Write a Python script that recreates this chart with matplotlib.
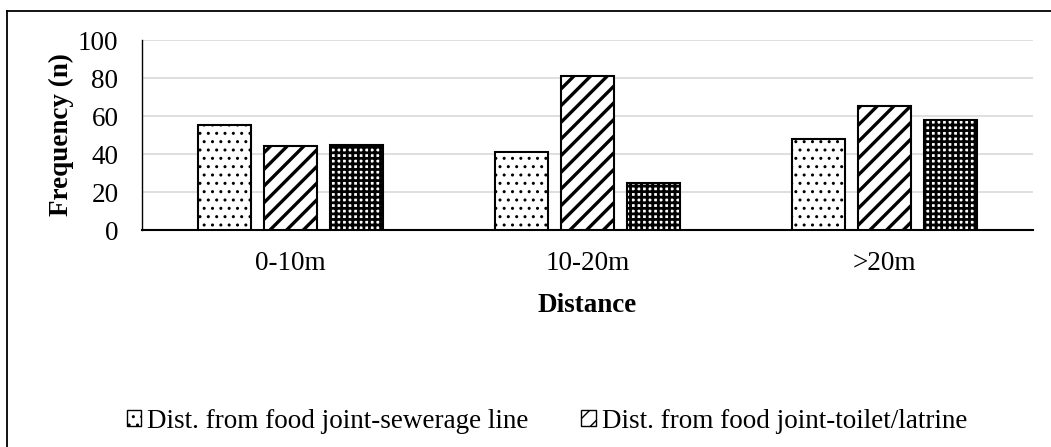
import matplotlib
matplotlib.use("Agg")
import matplotlib.pyplot as plt
import numpy as np
from matplotlib.lines import Line2D
from matplotlib.patches import Patch

categories = ["0-10m", "10-20m", ">20m"]
series_names = ["Dist. from food joint-sewerage line",
                "Dist. from food joint-toilet/latrine",
                "Dist. from food joint-drainage"]
sewerage = [55, 41, 48]
toilet = [44, 81, 65]
drainage = [45, 25, 58]
yticks = [0, 20, 40, 60, 80, 100]

plt.rcParams['font.family'] = ['Liberation Serif', 'DejaVu Serif']

W, H = 1051, 447
fig = plt.figure(figsize=(W / 100, H / 100), dpi=100)
ax = fig.add_axes([142 / W, 1 - 230 / H, (1033 - 142) / W, (230 - 40) / H])

x = np.arange(len(categories))
bw = 0.178
gap = 0.044
offsets = [-(bw + gap), 0, (bw + gap)]
hatches = ['..', '//', '+++']
hlw = [1.0, 2.4, 2.0]
data = [sewerage, toilet, drainage]

def set_hlw(p, w):
    if hasattr(p, 'set_hatch_linewidth'):
        p.set_hatch_linewidth(w)

for i, vals in enumerate(data):
    with plt.rc_context({'hatch.linewidth': hlw[i], 'hatch.color': 'black'}):
        bars = ax.bar(x + offsets[i], vals, width=bw, facecolor='white',
                      edgecolor='black', linewidth=1.5, hatch=hatches[i], zorder=3)
        for b in bars:
            set_hlw(b, hlw[i])

ax.set_xlim(-0.5, 2.5)
ax.set_ylim(0, 100)
ax.set_yticks(yticks)
ax.set_xticks(x)
ax.set_xticklabels(categories)
ax.yaxis.grid(True, color='#d9d9d9', linewidth=1.2, zorder=0)
ax.set_axisbelow(True)
for s in ['top', 'right']:
    ax.spines[s].set_visible(False)
ax.spines['left'].set_linewidth(1.0)
ax.spines['bottom'].set_linewidth(1.5)
ax.tick_params(axis='both', length=0, labelsize=19.5)
ax.tick_params(axis='y', pad=17)
ax.tick_params(axis='x', pad=15)

ax.set_ylabel("Frequency (n)", fontsize=19.5, fontweight='bold', labelpad=3)
ax.set_xlabel("Distance", fontsize=19.5, fontweight='bold', labelpad=12.5)

handles = []
for i in range(2):
    with plt.rc_context({'hatch.linewidth': hlw[i]}):
        p = Patch(facecolor='white', edgecolor='black', hatch=hatches[i], linewidth=1.0)
        set_hlw(p, hlw[i])
    handles.append(p)
leg = fig.legend(handles, series_names[:2], loc='center', bbox_to_anchor=(547 / W, 1 - 421 / H),
                 ncol=2, frameon=False, fontsize=19.5, handlelength=0.54, handleheight=0.54,
                 handletextpad=0.22, columnspacing=1.95, borderpad=0)

fig.add_artist(Line2D([7 / W, 1.0], [1 - 11 / H, 1 - 11 / H], transform=fig.transFigure,
                      color='black', linewidth=1.3))
fig.add_artist(Line2D([7 / W, 7 / W], [1 - 11 / H, 0], transform=fig.transFigure,
                      color='black', linewidth=1.3))

fig.savefig("out.png", dpi=100)
